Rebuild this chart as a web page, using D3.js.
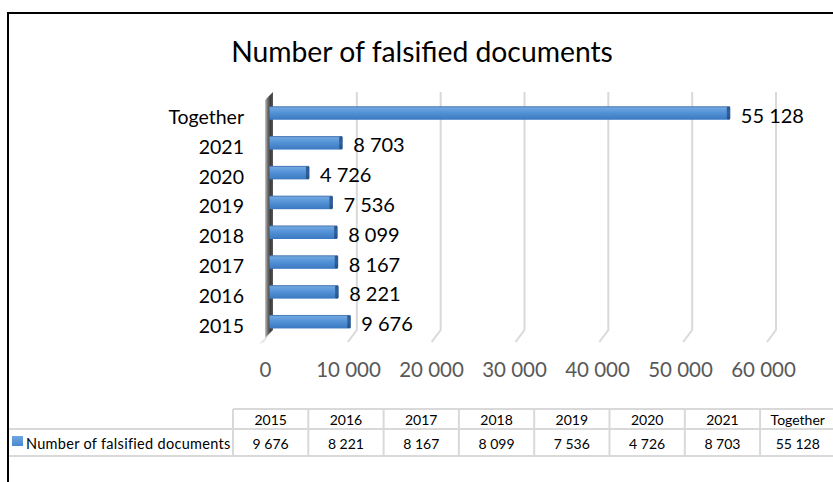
<!DOCTYPE html>
<html>
<head>
<meta charset="utf-8">
<script src="https://cdn.jsdelivr.net/npm/d3@7"></script>
<style>
  html, body { margin: 0; padding: 0; background: #fff; }
  svg { display: block; }
  text { font-family: Lato, "Open Sans", sans-serif; }
</style>
</head>
<body>
<div id="chart"></div>
<script>
// ---- data ----
const title = "Number of falsified documents";
const seriesName = "Number of falsified documents";
const categories = ["2015", "2016", "2017", "2018", "2019", "2020", "2021", "Together"];
const values = [9676, 8221, 8167, 8099, 7536, 4726, 8703, 55128];
const tickValues = [0, 10000, 20000, 30000, 40000, 50000, 60000];

const W = 833, H = 482;
const svg = d3.select("#chart").append("svg").attr("width", W).attr("height", H);
const defs = svg.append("defs");

const locale = d3.formatLocale({ decimal: ",", thousands: " ", grouping: [3], currency: ["", ""] });
const fmt = locale.format(",d");

// gradients
const gBar = defs.append("linearGradient").attr("id", "gBar").attr("x1", 0).attr("y1", 0).attr("x2", 0).attr("y2", 1);
[["0%", "#3d6ea8"], ["12%", "#6fa6e0"], ["45%", "#5593d8"], ["100%", "#3a78c0"]]
  .forEach(([o, c]) => gBar.append("stop").attr("offset", o).attr("stop-color", c));
const gCap = defs.append("linearGradient").attr("id", "gCap").attr("x1", 0).attr("y1", 0).attr("x2", 0).attr("y2", 1);
[["0%", "#2c5687"], ["50%", "#2f62a0"], ["100%", "#264f80"]]
  .forEach(([o, c]) => gCap.append("stop").attr("offset", o).attr("stop-color", c));
const gWall = defs.append("linearGradient").attr("id", "gWall").attr("x1", 0).attr("y1", 0).attr("x2", 1).attr("y2", 0);
[["0%", "#c8c8c8"], ["35%", "#6a6a6a"], ["70%", "#3c3c3c"], ["100%", "#5a5a5a"]]
  .forEach(([o, c]) => gWall.append("stop").attr("offset", o).attr("stop-color", c));
const gKey = defs.append("linearGradient").attr("id", "gKey").attr("x1", 0).attr("y1", 0).attr("x2", 0).attr("y2", 1);
[["0%", "#6fa6e0"], ["100%", "#4a88d0"]]
  .forEach(([o, c]) => gKey.append("stop").attr("offset", o).attr("stop-color", c));

// scales
const x = d3.scaleLinear().domain([0, 60000]).range([269.5, 770.5]);      // bar (front) plane
const xBack = d3.scaleLinear().domain([0, 60000]).range([273, 776]);      // back wall gridlines
const xLabel = d3.scaleLinear().domain([0, 60000]).range([265, 763]);     // tick label row
const y = d3.scalePoint().domain(categories).range([321.7, 113]);
const col = d3.scaleBand().domain(categories).range([233, 233 + 8 * 75.3]);
const barH = 13.5;

// chart border
svg.append("path").attr("d", `M8,${H + 5} V13 H${W + 5}`)
  .attr("fill", "none").attr("stroke", "#000").attr("stroke-width", 2);

// title
svg.append("text").attr("x", 422).attr("y", 62).attr("text-anchor", "middle")
  .attr("font-size", 28.3).attr("fill", "#000").text(title);

// gridlines (back wall + floor foot)
const gridTop = 92, gridBot = 330;
svg.append("g").selectAll("path").data(tickValues.slice(1)).join("path")
  .attr("d", d => `M${xBack(d)},${gridTop} V${gridBot} L${xBack(d) - 9},${gridBot + 12}`)
  .attr("fill", "none").attr("stroke", "#d9d9d9").attr("stroke-width", 2);

// left wall
const w0 = xBack(0);
svg.append("path")
  .attr("d", `M${w0 - 8},${gridTop + 8} L${w0},${gridTop} L${w0},${gridBot} L${w0 - 8},${gridBot + 8} Z`)
  .attr("fill", "url(#gWall)");
svg.append("path")
  .attr("d", `M${w0 - 8},${gridBot + 8} L${w0},${gridBot} L${w0 - 9},${gridBot + 12} L${w0 - 14},${gridBot + 14} Z`)
  .attr("fill", "#d0d0d0").attr("opacity", 0.6);

// bars
const bars = svg.append("g").selectAll("g").data(categories).join("g");
bars.append("rect")
  .attr("x", x(0)).attr("y", (c) => y(c) - barH / 2)
  .attr("width", (c, i) => x(values[i]) - x(0)).attr("height", barH)
  .attr("fill", "url(#gBar)");
bars.append("rect")
  .attr("x", (c, i) => x(values[i]) - 3).attr("y", (c) => y(c) - barH / 2 + 0.5)
  .attr("width", 3.5).attr("height", barH - 1).attr("rx", 1)
  .attr("fill", "url(#gCap)");

// value labels
svg.append("g").selectAll("text").data(categories).join("text")
  .attr("x", (c, i) => x(values[i]) + 11).attr("y", (c) => y(c) + 9.5)
  .attr("font-size", 20).attr("fill", "#000")
  .text((c, i) => fmt(values[i]));

// category labels
svg.append("g").selectAll("text").data(categories).join("text")
  .attr("x", 244).attr("y", (c) => y(c) + 11).attr("text-anchor", "end")
  .attr("font-size", 19.5).attr("fill", "#000").text(c => c);

// value axis labels
const ax = svg.append("g").attr("transform", "translate(0,362)")
  .call(d3.axisBottom(xLabel).tickValues(tickValues).tickSize(0).tickPadding(0).tickFormat(fmt));
ax.select(".domain").remove();
ax.selectAll("text").attr("font-size", 20.5).attr("fill", "#595959")
  .attr("font-family", "Lato, 'Open Sans', sans-serif");

// data table
const tblTop = 409, tblMid = 429, tblBot = 456;
const lineC = "#d9d9d9";
const tbl = svg.append("g");
tbl.append("line").attr("x1", col.range()[0]).attr("x2", W).attr("y1", tblTop).attr("y2", tblTop)
  .attr("stroke", lineC).attr("stroke-width", 2);
tbl.append("line").attr("x1", 9).attr("x2", W).attr("y1", tblMid).attr("y2", tblMid)
  .attr("stroke", lineC).attr("stroke-width", 2);
tbl.append("line").attr("x1", 9).attr("x2", W).attr("y1", tblBot).attr("y2", tblBot)
  .attr("stroke", lineC).attr("stroke-width", 2);
tbl.selectAll("line.v").data(categories.concat(["_end"])).join("line").attr("class", "v")
  .attr("x1", (c, i) => col.range()[0] + i * col.step()).attr("x2", (c, i) => col.range()[0] + i * col.step())
  .attr("y1", tblTop).attr("y2", tblBot).attr("stroke", lineC).attr("stroke-width", 2);
tbl.selectAll("text.h").data(categories).join("text").attr("class", "h")
  .attr("x", c => col(c) + col.bandwidth() / 2).attr("y", 425).attr("text-anchor", "middle")
  .attr("font-size", 14).attr("fill", "#000").text(c => c);
tbl.selectAll("text.d").data(categories).join("text").attr("class", "d")
  .attr("x", c => col(c) + col.bandwidth() / 2).attr("y", 449).attr("text-anchor", "middle")
  .attr("font-size", 14).attr("fill", "#000").text((c, i) => fmt(values[i]));
// legend key
tbl.append("rect").attr("x", 12).attr("y", 436).attr("width", 11).attr("height", 10).attr("fill", "url(#gKey)");
tbl.append("text").attr("x", 26).attr("y", 449).attr("font-size", 14.5).attr("letter-spacing", 0.3)
  .attr("fill", "#000").text(seriesName);
</script>
</body>
</html>
